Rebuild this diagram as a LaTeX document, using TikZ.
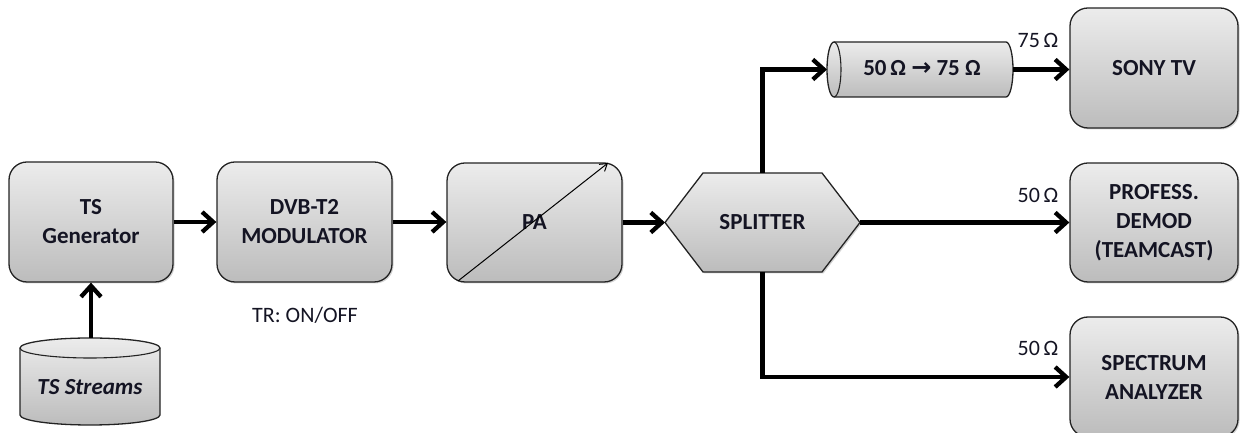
\documentclass[tikz,border=0pt]{standalone}
\usepackage{fontspec}
\setmainfont{Carlito}
\newfontfamily\dejavu{DejaVu Sans}
\usetikzlibrary{arrows.meta,shadows,calc}
\definecolor{topg}{RGB}{236,236,236}
\definecolor{botg}{RGB}{188,188,188}
\definecolor{edge}{RGB}{35,35,35}
\definecolor{txt}{RGB}{20,20,35}
\begin{document}
\begin{tikzpicture}[x=1pt,y=1pt,
  big/.style={font=\fontsize{23}{29}\selectfont\bfseries, text=txt},
  box/.style={big, draw=edge, line width=1.3pt, rounded corners=18pt,
    top color=topg, bottom color=botg, align=center, inner sep=0pt,
    drop shadow={shadow xshift=1.5pt, shadow yshift=-1.5pt, opacity=0.35}},
  shapefill/.style={draw=edge, line width=1.3pt, top color=topg, bottom color=botg},
  conn/.style={line width=4.3pt, -{Straight Barb[length=11pt,width=20pt]}},
  lbl/.style={font=\fontsize{22}{26}\selectfont, text=txt}]
\useasboundingbox (0,0) rectangle (1240,433);

% boxes
\node[box, minimum width=164pt, minimum height=120pt] (gen) at (91,211) {TS\\Generator};
\node[box, minimum width=175pt, minimum height=120pt] (mod) at (304.5,211) {DVB-T2\\MODULATOR};
\node[box, minimum width=175pt, minimum height=119pt] (pa) at (534.5,210.5) {PA};
\node[box, minimum width=168pt, minimum height=120pt] (sony) at (1154,365) {SONY TV};
\node[box, minimum width=168pt, minimum height=119pt] (demod) at (1154,210.5) {PROFESS.\\DEMOD\\(TEAMCAST)};
\node[box, minimum width=168pt, minimum height=120pt] (spec) at (1154,56) {SPECTRUM\\ANALYZER};

\node[lbl] (tr) at (305,118) {TR: ON/OFF};

% PA diagonal
\coordinate (paSW) at (458,152);
\coordinate (paNE) at (608,270);
\draw[line width=1pt, -{Straight Barb[length=7pt,width=9pt]}] (paSW) -- (paNE);

% splitter hexagon
\path[shapefill, drop shadow={shadow xshift=1.5pt, shadow yshift=-1.5pt, opacity=0.35}]
  (665,210.5) -- (703,260) -- (822,260) -- (860,210.5) -- (822,161) -- (703,161) -- cycle;
\node[big] (split) at (762.5,210.5) {SPLITTER};
\coordinate (splW) at (665,210.5);
\coordinate (splE) at (860,210.5);
\coordinate (splN) at (762.5,260);
\coordinate (splS) at (762.5,161);

% horizontal cylinder (converter)
\path[shapefill] (834,391) -- (1006,391)
  arc[start angle=90, end angle=-90, x radius=7, y radius=27.5]
  -- (834,336)
  arc[start angle=270, end angle=90, x radius=7, y radius=27.5] -- cycle;
\draw[draw=edge, line width=1.1pt] (834,336) arc[start angle=-90, end angle=90, x radius=7, y radius=27.5];
\node[big] (conv) at (922,365) {50\,Ω {\dejavu\bfseries\fontsize{24}{26}\selectfont →} 75 Ω};
\coordinate (cylW) at (827,363.5);
\coordinate (cylE) at (1013,363.5);

% TS Streams cylinder
\path[shapefill] (20,85) -- (20,18)
  arc[start angle=180, end angle=360, x radius=70, y radius=10]
  -- (160,85)
  arc[start angle=0, end angle=180, x radius=70, y radius=10] -- cycle;
\draw[draw=edge, line width=1.1pt] (20,85) arc[start angle=180, end angle=360, x radius=70, y radius=10];
\node[big, font=\fontsize{23}{29}\selectfont\bfseries\itshape] (streams) at (90,46) {TS Streams};
\coordinate (strT) at (91,95);

% labels
\node[lbl] (l75) at (1038,393) {75\,Ω};
\node[lbl] (l50a) at (1038,238) {50\,Ω};
\node[lbl] (l50b) at (1038,85) {50\,Ω};

% connectors
\draw[conn] (strT) -- (gen.south);
\draw[conn] (gen.east) -- (mod.west);
\draw[conn] (mod.east) -- (mod.east -| pa.west);
\draw[conn] (pa.east) -- (splW);
\draw[conn] (splE) -- (splE -| demod.west);
\draw[conn] (splN) |- (cylW);
\draw[conn] (cylE) -- (cylE -| sony.west);
\draw[conn] (splS) |- (spec.west);
\end{tikzpicture}
\end{document}
